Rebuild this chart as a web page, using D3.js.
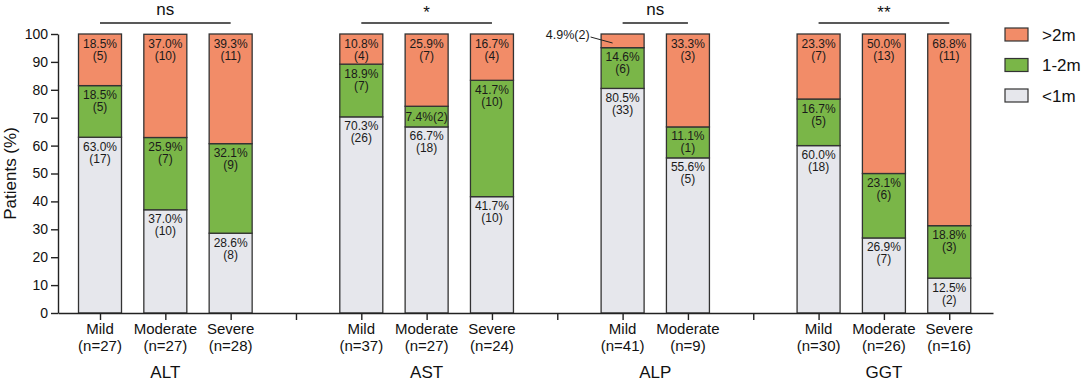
<!DOCTYPE html>
<html>
<head>
<meta charset="utf-8">
<script src="https://cdn.jsdelivr.net/npm/d3@7"></script>
<style>
    body { margin: 0; background: #fff; }
    svg { font-family: "Liberation Sans", Arial, sans-serif; }
    .axis path, .axis line { stroke: #222; stroke-width: 1.4; }
    .axis text { font-size: 14px; fill: #111; }
</style>
</head>
<body>
<svg id="chart" width="1084" height="383"></svg>
<script>
// data
const groups = ["ALT", "AST", "ALP", "GGT"];
const significance = ["ns", "*", "ns", "**"];
const barGroup = [0, 0, 0, 1, 1, 1, 2, 2, 3, 3, 3];
const barSeverity = ["Mild", "Moderate", "Severe", "Mild", "Moderate", "Severe", "Mild", "Moderate", "Mild", "Moderate", "Severe"];
const barN = [27, 27, 28, 37, 27, 24, 41, 9, 30, 26, 16];
const under1m = [63.0, 37.0, 28.6, 70.3, 66.7, 41.7, 80.5, 55.6, 60.0, 26.9, 12.5];
const under1mN = [17, 10, 8, 26, 18, 10, 33, 5, 18, 7, 2];
const oneTo2m = [18.5, 25.9, 32.1, 18.9, 7.4, 41.7, 14.6, 11.1, 16.7, 23.1, 18.8];
const oneTo2mN = [5, 7, 9, 7, 2, 10, 6, 1, 5, 6, 3];
const over2m = [18.5, 37.0, 39.3, 10.8, 25.9, 16.7, 4.9, 33.3, 23.3, 50.0, 68.8];
const over2mN = [5, 10, 11, 4, 7, 4, 2, 3, 7, 13, 11];
const seriesNames = ["<1m", "1-2m", ">2m"];
const seriesColors = ["#e6e7ec", "#7ab648", "#f28c68"];
const yTicks = [0, 10, 20, 30, 40, 50, 60, 70, 80, 90, 100];

const svg = d3.select("#chart");

// slot of each bar on the x axis: an empty slot between groups
const slot = barGroup.map((g, i) => i + g);
const x = d3.scaleLinear().domain([-0.643, 13.67]).range([58, 993]);
const y = d3.scaleLinear().domain([0, 100]).range([313, 34]);
const barW = 43;

let rows = under1m.map((v, i) => ({
    i: i, "<1m": v, "1-2m": oneTo2m[i], ">2m": over2m[i],
    counts: [under1mN[i], oneTo2mN[i], over2mN[i]]
}));
let stack = d3.stack().keys(seriesNames)(rows);

// bars
stack.forEach((layer, k) => {
    svg.append("g").selectAll("rect")
        .data(layer)
        .enter()
        .append("rect")
        .attr("x", d => x(slot[d.data.i]) - barW / 2)
        .attr("width", barW)
        .attr("y", d => y(Math.min(d[1], 100)))
        .attr("height", d => y(d[0]) - y(Math.min(d[1], 100)))
        .attr("fill", seriesColors[k])
        .attr("stroke", "#333")
        .attr("stroke-width", 1.3);
});

// segment labels
stack.forEach((layer, k) => {
    layer.forEach(d => {
        let cx = x(slot[d.data.i]);
        let top = y(Math.min(d[1], 100));
        let h = y(d[0]) - top;
        let pct = d.data[seriesNames[k]].toFixed(1) + "%";
        let cnt = "(" + d.data.counts[k] + ")";
        let t = svg.append("text")
            .attr("text-anchor", "middle")
            .attr("font-size", 12)
            .attr("fill", "#1a1a1a");
        if (h < 16) {
            // too small, label outside on the left with a leader line
            t.attr("x", cx - 33).attr("y", top + 5).attr("text-anchor", "end")
                .attr("font-size", 12.5).text(pct + cnt);
            svg.append("line")
                .attr("x1", cx - 32).attr("y1", top + 3)
                .attr("x2", cx - 10).attr("y2", top + 9)
                .attr("stroke", "#222").attr("stroke-width", 1);
        } else if (h < 25) {
            t.attr("x", cx).attr("y", top + h / 2 + 4).text(pct + cnt);
        } else {
            t.append("tspan").attr("x", cx).attr("y", top + 13.5).text(pct);
            t.append("tspan").attr("x", cx).attr("y", top + 25.5).text(cnt);
        }
    });
});

// y axis
svg.append("g")
    .attr("class", "axis")
    .attr("transform", "translate(58,0)")
    .call(d3.axisLeft(y).tickValues(yTicks).tickSize(7).tickSizeOuter(0).tickPadding(3))
    .selectAll("text").attr("font-size", 14);

svg.append("text")
    .attr("transform", "translate(16," + y(50) + ") rotate(-90)")
    .attr("text-anchor", "middle")
    .attr("font-size", 17)
    .attr("fill", "#111")
    .text("Patients (%)");

// x axis, ticks at bars and between groups
svg.append("g")
    .attr("class", "axis")
    .attr("transform", "translate(0,313)")
    .call(d3.axisBottom(x).tickValues(d3.range(14)).tickFormat("").tickSize(7).tickSizeOuter(0));

barSeverity.forEach((s, i) => {
    let t = svg.append("text")
        .attr("text-anchor", "middle")
        .attr("font-size", 15)
        .attr("fill", "#111");
    t.append("tspan").attr("x", x(slot[i])).attr("y", 334).text(s);
    t.append("tspan").attr("x", x(slot[i])).attr("y", 351).text("(n=" + barN[i] + ")");
});

// group names and significance brackets
groups.forEach((g, gi) => {
    let idx = barGroup.map((b, i) => b === gi ? i : -1).filter(i => i >= 0);
    let x0 = x(slot[idx[0]]);
    let x1 = x(slot[idx[idx.length - 1]]);
    let mid = (x0 + x1) / 2;
    svg.append("text")
        .attr("x", mid).attr("y", 378)
        .attr("text-anchor", "middle")
        .attr("font-size", 17)
        .attr("fill", "#111")
        .text(g);
    svg.append("line")
        .attr("x1", x0).attr("x2", x1)
        .attr("y1", 23).attr("y2", 23)
        .attr("stroke", "#222").attr("stroke-width", 1.4);
    svg.append("text")
        .attr("x", mid)
        .attr("y", significance[gi].startsWith("*") ? 18 : 15)
        .attr("text-anchor", "middle")
        .attr("font-size", 17)
        .attr("fill", "#111")
        .text(significance[gi]);
});

// legend, top entry first
let legendOrder = [2, 1, 0];
legendOrder.forEach((k, j) => {
    svg.append("rect")
        .attr("x", 1005).attr("y", 28 + j * 30.5)
        .attr("width", 23).attr("height", 13)
        .attr("fill", seriesColors[k])
        .attr("stroke", "#333").attr("stroke-width", 1.2);
    svg.append("text")
        .attr("x", 1042).attr("y", 28 + j * 30.5 + 12.5)
        .attr("font-size", 17)
        .attr("fill", "#111")
        .text(seriesNames[k]);
});
</script>
</body>
</html>
